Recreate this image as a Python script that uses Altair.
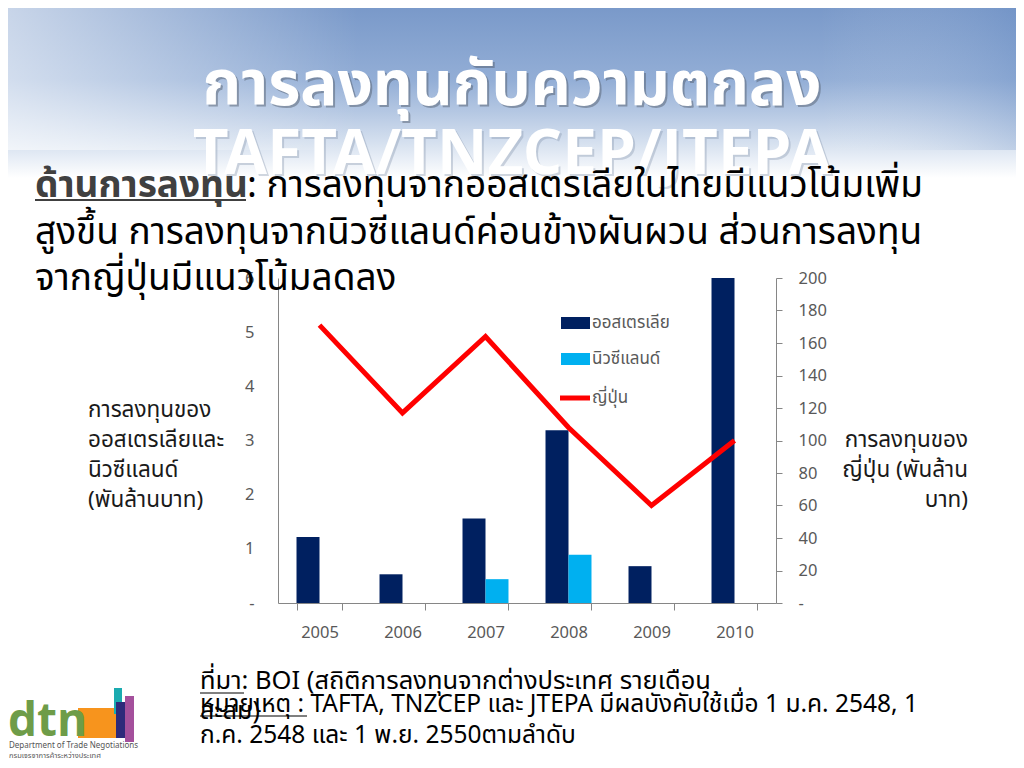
import altair as alt
import pandas as pd

# ---------------- data ----------------
years = ["2005", "2006", "2007", "2008", "2009", "2010"]
australia = [1.22, 0.53, 1.56, 3.19, 0.68, 6.0]
new_zealand = [None, None, 0.44, 0.89, None, None]
japan = [171, 117, 164, 108, 60, 100]
series_names = ["ออสเตรเลีย", "นิวซีแลนด์", "ญี่ปุ่น"]
series_colors = ["#002060", "#00B0F0", "#FF0000"]
left_ticks = [0, 1, 2, 3, 4, 5, 6]
right_ticks = [0, 20, 40, 60, 80, 100, 120, 140, 160, 180, 200]

title_line1 = "การลงทุนกับความตกลง"
title_line2 = "TAFTA/TNZCEP/JTEPA"
body_head = "ด้านการลงทุน"
body_line1 = ": การลงทุนจากออสเตรเลียในไทยมีแนวโน้มเพิ่ม"
body_line2 = "สูงขึ้น การลงทุนจากนิวซีแลนด์ค่อนข้างผันผวน ส่วนการลงทุน"
body_line3 = "จากญี่ปุ่นมีแนวโน้มลดลง"
left_title = ["การลงทุนของ", "ออสเตรเลียและ", "นิวซีแลนด์", "(พันล้านบาท)"]
right_title = ["การลงทุนของ", "ญี่ปุ่น (พันล้าน", "บาท)"]
source_line1 = "ที่มา: BOI (สถิติการลงทุนจากต่างประเทศ รายเดือน"
source_line2 = "สะสม)"
note_line1 = "หมายเหตุ : TAFTA, TNZCEP และ JTEPA มีผลบังคับใช้เมื่อ 1 ม.ค. 2548, 1"
note_line2 = "ก.ค. 2548 และ 1 พ.ย. 2550ตามลำดับ"
logo_text = ["dtn", "Department of Trade Negotiations", "กรมเจรจาการค้าระหว่างประเทศ"]

FONT = "Noto Sans Thai, Noto Sans, sans-serif"
OX, OY = 278, 278   # page position of plot origin
PW, PH = 498, 325

bars_df = pd.DataFrame({
    "year": years * 2,
    "series": [series_names[0]] * 6 + [series_names[1]] * 6,
    "value": australia + new_zealand,
})
jp_df = pd.DataFrame({"year": years, "value": japan})


def txt(s, x, y, size, color, align="left", weight="normal", baseline="alphabetic", opacity=1.0):
    return alt.Chart(pd.DataFrame({"t": [s]})).mark_text(
        align=align, baseline=baseline, fontSize=size, color=color,
        fontWeight=weight, font=FONT, opacity=opacity
    ).encode(x=alt.value(x - OX), y=alt.value(y - OY), text="t:N")


def rect(x1, y1, x2, y2, fill, opacity=1.0):
    return alt.Chart(pd.DataFrame({"a": [0]})).mark_rect(fill=fill, opacity=opacity).encode(
        x=alt.value(x1 - OX), x2=alt.value(x2 - OX), y=alt.value(y1 - OY), y2=alt.value(y2 - OY))


def hline(x1, x2, y, color, width):
    return alt.Chart(pd.DataFrame({"a": [0]})).mark_rule(color=color, strokeWidth=width).encode(
        x=alt.value(x1 - OX), x2=alt.value(x2 - OX), y=alt.value(y - OY))


# ---------------- header ----------------
header_grad = alt.LinearGradient(
    gradient="linear", x1=0, x2=0, y1=0, y2=1,
    stops=[alt.GradientStop(color="#7797c8", offset=0),
           alt.GradientStop(color="#93aed6", offset=0.45),
           alt.GradientStop(color="#d5e0ef", offset=0.8),
           alt.GradientStop(color="#ffffff", offset=1)])
header = alt.Chart(pd.DataFrame({"a": [0]})).mark_rect(fill=header_grad).encode(
    x=alt.value(0 - OX), x2=alt.value(1024 - OX), y=alt.value(0 - OY), y2=alt.value(178 - OY))
side_grad = alt.LinearGradient(
    gradient="linear", x1=0, x2=1, y1=0, y2=0,
    stops=[alt.GradientStop(color="rgba(255,255,255,0.6)", offset=0),
           alt.GradientStop(color="rgba(255,255,255,0)", offset=0.35),
           alt.GradientStop(color="rgba(255,255,255,0)", offset=0.8),
           alt.GradientStop(color="rgba(90,130,190,0.25)", offset=1)])
header_side = alt.Chart(pd.DataFrame({"a": [0]})).mark_rect(fill=side_grad).encode(
    x=alt.value(0 - OX), x2=alt.value(1024 - OX), y=alt.value(0 - OY), y2=alt.value(150 - OY))

titles = [
    txt(title_line1, 514, 107, 62, "#556070", "center", "bold", opacity=0.5),
    txt(title_line1, 512, 105, 62, "#ffffff", "center", "bold"),
    txt(title_line2, 514, 176, 62, "#8090a8", "center", "bold", opacity=0.35),
    txt(title_line2, 512, 174, 62, "#ffffff", "center", "bold"),
]

# ---------------- chart ----------------
xscale = alt.Scale(domain=years, paddingInner=0.446, paddingOuter=0.223)
bars = alt.Chart(bars_df).mark_bar().encode(
    x=alt.X("year:N", scale=xscale, sort=years,
            axis=alt.Axis(title=None, labelAngle=0, labelColor="#595959", labelFontSize=16.5,
                          labelFont=FONT, domainColor="#868686", tickColor="#868686",
                          tickSize=7, tickBand="extent", labelPadding=14)),
    xOffset=alt.XOffset("series:N", scale=alt.Scale(domain=series_names[:2], paddingInner=0, paddingOuter=0)),
    y=alt.Y("value:Q", scale=alt.Scale(domain=[0, 6], nice=False),
            axis=alt.Axis(title=None, values=left_ticks, ticks=False, grid=False,
                          labelExpr="datum.value == 0 ? '-' : datum.label",
                          labelColor="#595959", labelFontSize=16.5, labelFont=FONT,
                          domainColor="#868686", labelPadding=24)),
    color=alt.Color("series:N", scale=alt.Scale(domain=series_names[:2], range=series_colors[:2]), legend=None),
)
line = alt.Chart(jp_df).mark_line(color=series_colors[2], strokeWidth=5).encode(
    x=alt.X("year:N", scale=xscale, sort=years),
    y=alt.Y("value:Q", scale=alt.Scale(domain=[0, 200], nice=False),
            axis=alt.Axis(title=None, orient="right", values=right_ticks, grid=False,
                          labelExpr="datum.value == 0 ? '-' : datum.label",
                          labelColor="#595959", labelFontSize=16.5, labelFont=FONT,
                          domainColor="#868686", tickColor="#868686", tickSize=6,
                          labelPadding=16)),
)
chart_core = alt.layer(bars, line).resolve_scale(y="independent")

# ---------------- legend (manual) ----------------
legend = [
    rect(561, 317, 590, 329, series_colors[0]),
    txt(series_names[0], 592, 323, 17, "#595959", baseline="middle"),
    rect(561, 353, 590, 365, series_colors[1]),
    txt(series_names[1], 592, 359, 17, "#595959", baseline="middle"),
    hline(560, 590, 398, series_colors[2], 5),
    txt(series_names[2], 592, 398, 17, "#595959", baseline="middle"),
]

# ---------------- body text ----------------
body = [
    txt(body_head, 35, 197, 37, "#404040", weight="bold"),
    hline(35, 246, 200, "#404040", 2),
    txt(body_line1, 247, 197, 37, "#000000"),
    txt(body_line2, 35, 244, 37, "#000000"),
    txt(body_line3, 35, 290, 37, "#000000"),
]
axis_titles = [txt(s, 88, 417 + 30 * i, 22.5, "#1a1a1a") for i, s in enumerate(left_title)] + \
              [txt(s, 968, 447 + 30 * i, 22.5, "#1a1a1a", align="right") for i, s in enumerate(right_title)]

footer = [
    txt(source_line1, 200, 689, 25.5, "#000000"),
    hline(200, 244, 693, "#000000", 1),
    txt(source_line2, 200, 719, 25, "#000000"),
    txt(note_line1, 200, 712, 24.5, "#000000"),
    hline(200, 307, 716, "#000000", 1),
    txt(note_line2, 200, 743, 24.5, "#000000"),
]

logo = [
    rect(78, 708, 120, 738, "#f7941d"),
    rect(114, 688, 122, 714, "#1aabb0"),
    rect(116, 702, 127, 738, "#2e2a7a"),
    rect(125, 696, 134, 742, "#a4509c"),
    txt(logo_text[0], 8, 736, 46, "#6e9c48", weight="bold"),
    txt(logo_text[1], 9, 748, 8, "#555555"),
    txt(logo_text[2], 9, 758, 7.5, "#555555"),
]

chart = alt.layer(
    header, header_side, *titles, chart_core, *legend, *body, *axis_titles, *footer, *logo
).properties(
    width=PW, height=PH,
    padding={"left": OX - 8, "top": OY - 8, "right": 1008 - (OX - 8) - PW, "bottom": 752 - (OY - 8) - PH},
    autosize=alt.AutoSizeParams(type="none"),
).configure_view(strokeWidth=0)

chart.save("out.html", embed_options={"renderer": "svg", "actions": False})
